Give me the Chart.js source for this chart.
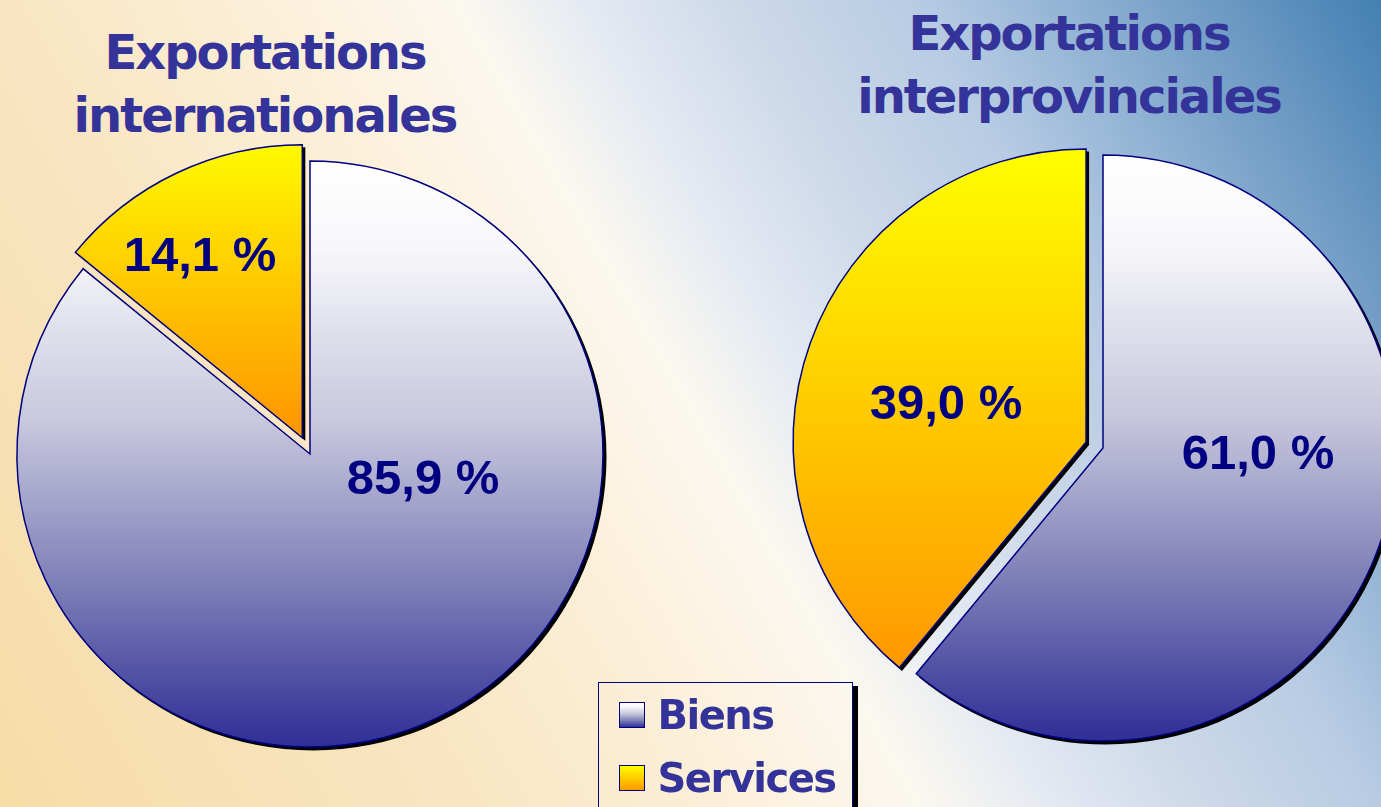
<!DOCTYPE html>
<html lang="fr">
<head>
<meta charset="utf-8">
<title>Exportations - biens et services</title>
<script src="https://cdn.jsdelivr.net/npm/chart.js@4.4.0/dist/chart.umd.min.js"></script>
<style>
  html, body { margin: 0; padding: 0; overflow: hidden; }
  body {
    width: 1381px; height: 807px; position: relative;
    background: linear-gradient(60deg, #f6dca6 0%, #f9e5c2 25%, #fcf0da 40%, #fbf8f0 50%,
      #e4e9f2 57%, #cdd9e9 65%, #b6cbe3 75%, #7fa6cc 87%, #4480b2 100%);
  }
  .titre {
    position: absolute; width: 600px; text-align: center; color: #333399;
    font: bold 48px/63px "DejaVu Sans", Verdana, sans-serif; letter-spacing: -2px;
  }
  #titre1 { left: -35px; top: 21px; }
  #titre2 { left: 769px; top: 2px; }
  canvas { position: absolute; top: 0; }
  #pie1 { left: 0; }
  #pie2 { left: 720px; }
  #legende {
    position: absolute; left: 598px; top: 682px; width: 255px; height: 150px;
    box-sizing: border-box; border: 1.5px solid #000080; box-shadow: 5px 4px 0 #000;
  }
  .item { position: absolute; left: 19.5px; height: 26px; display: flex; align-items: center; }
  .swatch { width: 26px; height: 26px; box-sizing: border-box; border: 1.5px solid #000080; }
  .item span.txt {
    margin-left: 13px; color: #333399; white-space: nowrap;
    font: bold 40px/40px "DejaVu Sans", Verdana, sans-serif; letter-spacing: -1.5px;
  }
</style>
</head>
<body>
<div class="titre" id="titre1"></div>
<div class="titre" id="titre2"></div>
<canvas id="pie1" width="640" height="807"></canvas>
<canvas id="pie2" width="700" height="807"></canvas>
<div id="legende"></div>

<script>
// ---- données ----
const CATEGORIES = ['Biens', 'Services'];
const INTERNATIONALES = [85.9, 14.1];
const INTERPROVINCIALES = [61.0, 39.0];
const TITRE_INTER = ['Exportations', 'internationales'];
const TITRE_PROV = ['Exportations', 'interprovinciales'];

// ---- style ----
const FILL_STOPS = [
  [[0, '#ffffff'], [0.15, '#f7f7fa'], [0.45, '#c6c6dd'], [0.72, '#7f7fb8'], [1, '#2e2e96']],
  [[0, '#ffff00'], [0.5, '#ffcc00'], [1, '#ff9900']]
];
const EXPLODE = [0, 18];
const RADIUS = 293;
// label centres, in radius units from the (exploded) slice centre
const LABEL_AT_INTER = [[0.386, 0.089], [-0.349, -0.614]];
const LABEL_AT_PROV = [[0.529, 0.024], [-0.478, -0.126]];

function pct(v) {
  return v.toFixed(1).replace('.', ',') + ' %';
}

function explodeShift(arc, d) {
  const m = (arc.startAngle + arc.endAngle) / 2;
  return [Math.cos(m) * d, Math.sin(m) * d];
}

// pie with pulled-out slices and a flat black drop shadow
class ExplodedPie extends Chart.PieController {
  draw() {
    const ctx = this.chart.ctx;
    const ds = this.getDataset();
    const arcs = this._cachedMeta.data;
    const ex = ds.explode || [];
    ctx.save();
    ctx.fillStyle = '#000';
    arcs.forEach((arc, i) => {
      const [dx, dy] = explodeShift(arc, ex[i] || 0);
      const sx = arc.x + dx + 3, sy = arc.y + dy + 3;
      ctx.beginPath();
      ctx.moveTo(sx, sy);
      ctx.arc(sx, sy, arc.outerRadius + 0.5, arc.startAngle, arc.endAngle);
      ctx.closePath();
      ctx.fill();
    });
    ctx.restore();
    arcs.forEach((arc, i) => {
      const [dx, dy] = explodeShift(arc, ex[i] || 0);
      ctx.save();
      ctx.translate(dx, dy);
      arc.draw(ctx);
      ctx.restore();
    });
  }
}
ExplodedPie.id = 'explodedPie';
ExplodedPie.defaults = Chart.PieController.defaults;
ExplodedPie.overrides = Chart.PieController.overrides;
Chart.register(ExplodedPie);

// vertical gradient over each slice's own height
function sliceGradient(c) {
  const stops = FILL_STOPS[c.dataIndex];
  const area = c.chart.chartArea;
  if (!area || c.type !== 'data') return stops[stops.length - 1][1];
  const vals = c.dataset.data;
  const total = vals.reduce((a, b) => a + b, 0);
  let a0 = -Math.PI / 2;
  for (let k = 0; k < c.dataIndex; k++) a0 += vals[k] / total * 2 * Math.PI;
  const a1 = a0 + vals[c.dataIndex] / total * 2 * Math.PI;
  const d = (c.dataset.explode || [])[c.dataIndex] || 0;
  const cy = (area.top + area.bottom) / 2 + Math.sin((a0 + a1) / 2) * d;
  const ys = [cy, cy + Math.sin(a0) * RADIUS, cy + Math.sin(a1) * RADIUS];
  [Math.PI / 2, 3 * Math.PI / 2].forEach(t => {
    if (t > a0 && t < a1) ys.push(cy + Math.sin(t) * RADIUS);
  });
  const g = c.chart.ctx.createLinearGradient(0, Math.min(...ys), 0, Math.max(...ys));
  stops.forEach(([p, col]) => g.addColorStop(p, col));
  return g;
}

const sliceLabels = {
  id: 'sliceLabels',
  afterDatasetsDraw(chart, args, opts) {
    const ctx = chart.ctx;
    const meta = chart.getDatasetMeta(0);
    const ds = chart.data.datasets[0];
    ctx.save();
    ctx.font = 'bold 49px "Liberation Sans", Arial, sans-serif';
    ctx.fillStyle = '#000080';
    ctx.textAlign = 'center';
    ctx.textBaseline = 'middle';
    meta.data.forEach((arc, i) => {
      const [dx, dy] = explodeShift(arc, (ds.explode || [])[i] || 0);
      const [fx, fy] = opts.at[i];
      ctx.fillText(pct(ds.data[i]), arc.x + dx + fx * arc.outerRadius, arc.y + dy + fy * arc.outerRadius);
    });
    ctx.restore();
  }
};

function makePie(id, values, labelAt, padding) {
  return new Chart(document.getElementById(id), {
    type: 'explodedPie',
    data: {
      labels: CATEGORIES,
      datasets: [{
        data: values,
        explode: EXPLODE,
        radius: RADIUS,
        backgroundColor: sliceGradient,
        borderColor: '#000080',
        borderWidth: 1.5,
        borderJoinStyle: 'miter',
        hoverOffset: 0,
        clip: false
      }]
    },
    options: {
      responsive: false,
      animation: false,
      events: [],
      layout: { padding: padding },
      plugins: {
        legend: { display: false },
        tooltip: { enabled: false },
        title: { display: false },
        sliceLabels: { at: labelAt }
      }
    },
    plugins: [sliceLabels]
  });
}

makePie('pie1', INTERNATIONALES, LABEL_AT_INTER, { left: 0, right: 20, top: 110, bottom: 9 });
makePie('pie2', INTERPROVINCIALES, LABEL_AT_PROV, { left: 66, right: 0, top: 100, bottom: 11 });

// titles
document.getElementById('titre1').innerHTML = TITRE_INTER.join('<br>');
document.getElementById('titre2').innerHTML = TITRE_PROV.join('<br>');

// legend
const legende = document.getElementById('legende');
CATEGORIES.forEach((name, i) => {
  const row = document.createElement('div');
  row.className = 'item';
  row.style.top = (18.5 + i * 63) + 'px';
  const sw = document.createElement('span');
  sw.className = 'swatch';
  sw.style.background = 'linear-gradient(' + FILL_STOPS[i].map(([p, c]) => c + ' ' + (p * 100) + '%').join(', ') + ')';
  const txt = document.createElement('span');
  txt.className = 'txt';
  txt.textContent = name;
  row.appendChild(sw);
  row.appendChild(txt);
  legende.appendChild(row);
});
</script>
</body>
</html>
